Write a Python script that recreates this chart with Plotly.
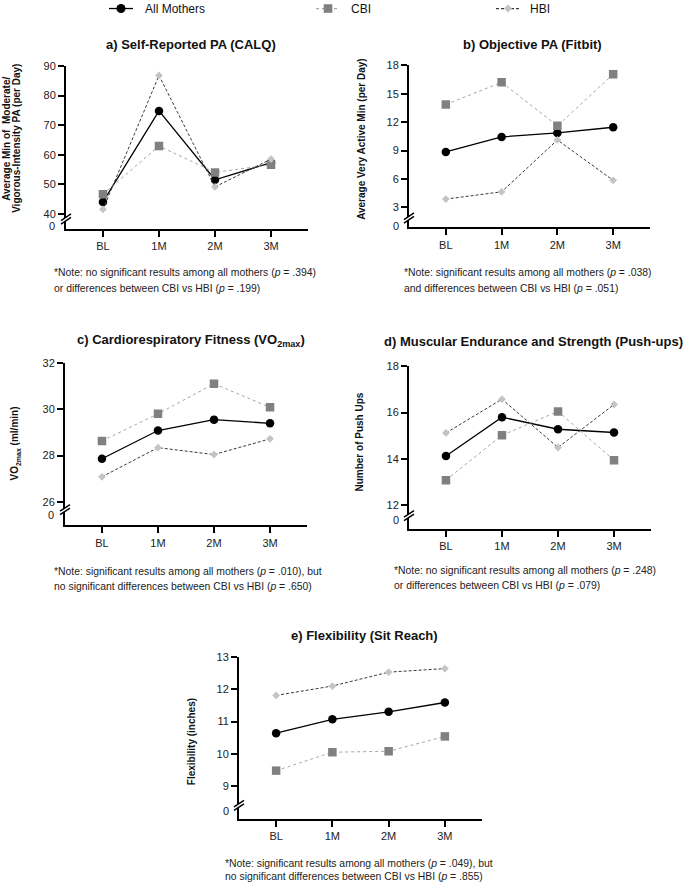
import plotly.graph_objects as go

W, H = 685, 884
FONT = "Liberation Sans, Arial, sans-serif"

# ---------------- data ----------------
timepoints = ["BL", "1M", "2M", "3M"]
series_names = ["All Mothers", "CBI", "HBI"]

calq_all = [44.0, 74.8, 51.5, 57.3]
calq_cbi = [46.6, 62.9, 54.0, 56.6]
calq_hbi = [41.5, 86.8, 49.1, 58.5]

fitbit_all = [8.86, 10.44, 10.86, 11.46]
fitbit_cbi = [13.86, 16.2, 11.61, 17.05]
fitbit_hbi = [3.88, 4.65, 10.12, 5.86]

vo2_all = [27.86, 29.08, 29.55, 29.39]
vo2_cbi = [28.63, 29.8, 31.1, 30.08]
vo2_hbi = [27.08, 28.34, 28.04, 28.72]

push_all = [14.12, 15.8, 15.28, 15.14]
push_cbi = [13.08, 15.02, 16.05, 13.94]
push_hbi = [15.12, 16.58, 14.49, 16.35]

flex_all = [10.64, 11.07, 11.3, 11.59]
flex_cbi = [9.48, 10.05, 10.08, 10.54]
flex_hbi = [11.81, 12.1, 12.53, 12.64]

titles = [
    "a) Self-Reported PA (CALQ)",
    "b) Objective PA (Fitbit)",
    "c) Cardiorespiratory Fitness (VO<sub>2max</sub>)",
    "d) Muscular Endurance and Strength (Push-ups)",
    "e) Flexibility (Sit Reach)",
]
ytitles = [
    ["Average Min of  Moderate/", "Vigorous-Intensity PA (per Day)"],
    ["Average Very Active Min (per Day)"],
    ["VO<sub>2max</sub> (ml/min)"],
    ["Number of Push Ups"],
    ["Flexibility (inches)"],
]
notes = [
    ["*Note: no significant results among all mothers (<i>p</i> = .394)",
     "or differences between CBI vs HBI (<i>p</i> = .199)"],
    ["*Note: significant results among all mothers (<i>p</i> = .038)",
     "and differences between CBI vs HBI (<i>p</i> = .051)"],
    ["*Note: significant results among all mothers (<i>p</i> = .010), but",
     "no significant differences between CBI vs HBI (<i>p</i> = .650)"],
    ["*Note: no significant results among all mothers (<i>p</i> = .248)",
     "or differences between CBI vs HBI (<i>p</i> = .079)"],
    ["*Note: significant results among all mothers (<i>p</i> = .049), but",
     "no significant differences between CBI vs HBI (<i>p</i> = .855)"],
]
yticks = [
    [40, 50, 60, 70, 80, 90],
    [3, 6, 9, 12, 15, 18],
    [26, 28, 30, 32],
    [12, 14, 16, 18],
    [9, 10, 11, 12, 13],
]
panel_data = [
    (calq_all, calq_cbi, calq_hbi),
    (fitbit_all, fitbit_cbi, fitbit_hbi),
    (vo2_all, vo2_cbi, vo2_hbi),
    (push_all, push_cbi, push_hbi),
    (flex_all, flex_cbi, flex_hbi),
]

# ---------------- layout geometry (pixels) ----------------
panels = [
    dict(x0=66, x1=308, y0=65, y1=228, yr=[34.93, 90], zero=225, brk=219,
         title=(191, 44), ytitle=([7, 17], 138), note=(52, 272, 288)),
    dict(x0=409, x1=650, y0=64.3, y1=226.7, yr=[0.89, 18], zero=225, brk=218,
         title=(532, 44), ytitle=([362], 138), note=(402, 272, 288)),
    dict(x0=65, x1=307, y0=362.3, y1=525, yr=[24.98, 32], zero=515, brk=510,
         title=(191, 340), ytitle=([15], 443), note=(52, 571, 586)),
    dict(x0=409, x1=651, y0=365.7, y1=528.3, yr=[10.98, 18], zero=520, brk=516,
         title=(533, 341), ytitle=([360], 442), note=(392, 570, 585)),
    dict(x0=239, x1=482, y0=656.7, y1=819, yr=[7.98, 13], zero=811, brk=806,
         title=(364, 635), ytitle=([191], 742), note=(223, 863, 876)),
]

colors = dict(all="black", cbi_m="#808080", cbi_l="#a6a6a6", hbi_m="#c4c4c4", hbi_l="#3a3a3a")
styles = [
    dict(line=dict(color=colors["all"], width=1.3, dash="solid"),
         marker=dict(symbol="circle", size=8.5, color=colors["all"])),
    dict(line=dict(color=colors["cbi_l"], width=1, dash="dot"),
         marker=dict(symbol="square", size=8.5, color=colors["cbi_m"])),
    dict(line=dict(color=colors["hbi_l"], width=1, dash="3px,2px"),
         marker=dict(symbol="diamond", size=6, color=colors["hbi_m"])),
]

# small vertical calibration of the photographed page
K = 5.0


def px(xp):
    return xp / W


def py(yp):
    yp = yp - K * (H - yp) / H
    return 1 - yp / H


fig = go.Figure()
layout = dict(
    width=W, height=H, margin=dict(l=0, r=0, t=0, b=0),
    paper_bgcolor="white", plot_bgcolor="white", showlegend=False,
    font=dict(family=FONT, color="#222", size=11),
)
annotations = []
shapes = []

for i, (p, dat) in enumerate(zip(panels, panel_data)):
    n = "" if i == 0 else str(i + 1)
    xa, ya = "x" + n, "y" + n
    for j, vals in enumerate(dat):
        st = styles[j]
        fig.add_trace(go.Scatter(
            x=timepoints, y=vals, xaxis=xa, yaxis=ya, mode="lines+markers",
            name=series_names[j], line=st["line"], marker=st["marker"],
            hoverinfo="skip",
        ))
    layout["xaxis" + n] = dict(
        domain=[px(p["x0"]), px(p["x1"])], anchor=ya, type="category",
        range=[-0.66, 3.66], showline=True, linewidth=2, linecolor="black",
        ticks="outside", ticklen=6, tickwidth=1.5, tickcolor="black",
        showgrid=False, zeroline=False, tickfont=dict(size=11, color="#222"),
    )
    layout["yaxis" + n] = dict(
        domain=[py(p["y1"]), py(p["y0"])], anchor=xa, range=p["yr"],
        tickvals=yticks[i], showline=True, linewidth=2, linecolor="black",
        ticks="outside", ticklen=6, tickwidth=1.5, tickcolor="black",
        showgrid=False, zeroline=False, tickfont=dict(size=11, color="#222"),
    )
    annotations.append(dict(
        text="0", xref="paper", yref="paper", x=px(p["x0"] - 8.5), y=py(p["zero"]),
        xanchor="right", yanchor="middle", showarrow=False,
        font=dict(size=11, color="#222")))
    bx, by = p["x0"], p["brk"]
    shapes.append(dict(
        type="path", xref="paper", yref="paper",
        path="M {},{} L {},{} L {},{} L {},{} Z".format(
            px(bx - 4.5), py(by + 4), px(bx + 4.5), py(by - 2),
            px(bx + 4.5), py(by - 5.5), px(bx - 4.5), py(by + 0.5)),
        fillcolor="white", line=dict(width=0)))
    for off in (0, -3.5):
        shapes.append(dict(
            type="line", xref="paper", yref="paper",
            x0=px(bx - 5), y0=py(by + 4.3 + off), x1=px(bx + 5), y1=py(by - 2.3 + off),
            line=dict(color="black", width=1.5)))
    annotations.append(dict(
        text="<b>" + titles[i] + "</b>", xref="paper", yref="paper",
        x=px(p["title"][0]), y=py(p["title"][1]), xanchor="center", yanchor="middle",
        showarrow=False, font=dict(size=13, color="#111")))
    for txt, tx in zip(ytitles[i], p["ytitle"][0]):
        annotations.append(dict(
            text="<b>" + txt + "</b>", xref="paper", yref="paper",
            x=px(tx), y=py(p["ytitle"][1]), xanchor="center", yanchor="middle",
            textangle=-90, showarrow=False, font=dict(size=10, color="#111")))
    nx, ny1, ny2 = p["note"]
    for txt, ny in zip(notes[i], (ny1, ny2)):
        annotations.append(dict(
            text=txt, xref="paper", yref="paper", x=px(nx), y=py(ny),
            xanchor="left", yanchor="middle", showarrow=False,
            font=dict(size=10.4, color="#222")))

# ---------------- legend (drawn inside the page) ----------------
LY = 7.5
legend_pos = [(121, 143), (328, 349), (508, 528)]
legend_dash = ["solid", "dot", "3px,2px"]
for j, (mx, tx) in enumerate(legend_pos):
    st = styles[j]
    shapes.append(dict(
        type="line", xref="paper", yref="paper",
        x0=px(mx - 12), x1=px(mx + 12), y0=py(LY), y1=py(LY),
        line=dict(color=st["line"]["color"], width=1.3, dash=legend_dash[j])))
    c = st["marker"]["color"]
    if j == 0:
        shapes.append(dict(type="circle", xref="paper", yref="paper",
                           x0=px(mx - 4.5), x1=px(mx + 4.5), y0=py(LY + 4.5), y1=py(LY - 4.5),
                           fillcolor=c, line=dict(width=0)))
    elif j == 1:
        shapes.append(dict(type="rect", xref="paper", yref="paper",
                           x0=px(mx - 4.3), x1=px(mx + 4.3), y0=py(LY + 4.3), y1=py(LY - 4.3),
                           fillcolor=c, line=dict(width=0)))
    else:
        shapes.append(dict(type="path", xref="paper", yref="paper",
                           path="M {},{} L {},{} L {},{} L {},{} Z".format(
                               px(mx - 4), py(LY), px(mx), py(LY - 4),
                               px(mx + 4), py(LY), px(mx), py(LY + 4)),
                           fillcolor=c, line=dict(width=0)))
    annotations.append(dict(
        text=series_names[j], xref="paper", yref="paper", x=px(tx), y=py(LY),
        xanchor="left", yanchor="middle", showarrow=False,
        font=dict(size=12, color="#111")))

layout["annotations"] = annotations
layout["shapes"] = shapes
fig.update_layout(**layout)
fig.write_html(
    "out.html",
    config={"displayModeBar": False},
    post_script=(
        "document.body.style.margin='0';document.body.style.padding='0';"
        "document.documentElement.style.overflow='hidden';"
        "var gd=document.getElementById('{plot_id}');"
        "gd.style.position='fixed';gd.style.top='0px';gd.style.left='0px';"
    ),
)
